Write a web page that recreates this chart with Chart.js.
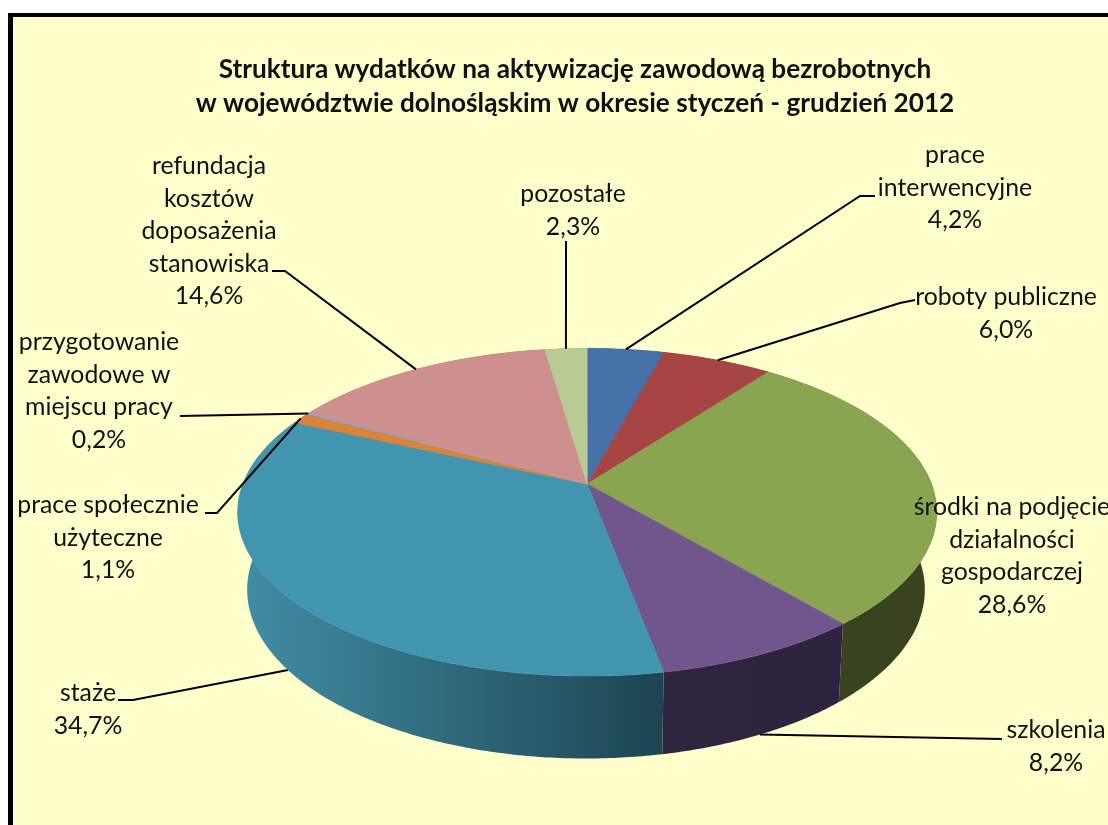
<!DOCTYPE html>
<html lang="pl">
<head>
<meta charset="utf-8">
<title>Struktura wydatków</title>
<script src="https://cdn.jsdelivr.net/npm/chart.js@4"></script>
<style>
    body { margin: 0; background: #fff; }
    #wrap { position: relative; width: 1108px; height: 825px; overflow: hidden; }
</style>
</head>
<body>
<div id="wrap"><canvas id="wydatkiChart" width="1108" height="825"></canvas></div>
<script>
var titleLines = [
    "Struktura wydatków na aktywizację zawodową bezrobotnych",
    "w województwie dolnośląskim w okresie styczeń - grudzień 2012"
];
var categories = [
    ["prace", "interwencyjne"],
    ["roboty publiczne"],
    ["środki na podjęcie", "działalności", "gospodarczej"],
    ["szkolenia"],
    ["staże"],
    ["prace społecznie", "użyteczne"],
    ["przygotowanie", "zawodowe w", "miejscu pracy"],
    ["refundacja", "kosztów", "doposażenia", "stanowiska"],
    ["pozostałe"]
];
var values = [4.2, 6.0, 28.6, 8.2, 34.7, 1.1, 0.2, 14.6, 2.3];

var topColors = ["#4571A6", "#A64544", "#8AA550", "#70568C", "#4195AE", "#D9833B", "#8FA8CF", "#CE8F8F", "#B7CB93"];
var sideLeft = ["#2A4463", "#632928", "#3A4520", "#30253F", "#418EA6", "#82501F", "#56657C", "#7C5656", "#6E7A58"];
var sideRight = ["#2A4463", "#632928", "#38421F", "#2E2340", "#1D4451", "#82501F", "#56657C", "#7C5656", "#6E7A58"];

// label placement: centre x, first line y, then the elbow of the leader line
var labelX = [955, 1006, 1012, 1056, 88, 108, 99, 209, 573];
var labelY = [155, 297, 507, 730, 693, 505, 342, 166, 194];
var lineGap = 32.6;
var leaders = [
    [[875, 196], [860, 196]],
    [[915, 300], [900, 303]],
    null,
    [[1002, 739]],
    [[118, 700], [133, 700]],
    [[205, 513], [217, 513]],
    [[180, 416]],
    [[272, 271], [285, 271]],
    [[566, 241]]
];

// perspective of the disc: top face and bottom rim
var topRim = { cx: 587.2, cy: 484, a: 344.3, b: 159, k: 0.172 };
var lowRim = { cx: 586, cy: 556, a: 332, b: 162, k: 0.2 };

function project(rim, angle) {
    var ux = Math.cos(angle), uy = Math.sin(angle);
    var d = 1 - rim.k * uy;
    return { x: rim.cx + rim.a * ux / d, y: rim.cy + rim.b * uy / d };
}

function rimPoints(rim, from, to) {
    var pts = [];
    var n = Math.max(2, Math.ceil((to - from) / 0.01));
    for (var i = 0; i <= n; i++) {
        pts.push(project(rim, from + (to - from) * i / n));
    }
    return pts;
}

function tracePath(ctx, pts) {
    ctx.beginPath();
    pts.forEach(function (p, i) {
        if (i === 0) ctx.moveTo(p.x, p.y);
        else ctx.lineTo(p.x, p.y);
    });
    ctx.closePath();
}

function drawLeader(ctx, arc, i) {
    var mid = (arc.startAngle + arc.endAngle) / 2;
    var end = project(Math.sin(mid) > 0.2 ? lowRim : topRim, mid);
    ctx.beginPath();
    leaders[i].forEach(function (p, j) {
        if (j === 0) ctx.moveTo(p[0], p[1]);
        else ctx.lineTo(p[0], p[1]);
    });
    ctx.lineTo(end.x, end.y);
    ctx.stroke();
}

var backgroundPlugin = {
    id: "paper",
    beforeDraw: function (chart) {
        var ctx = chart.ctx;
        ctx.save();
        ctx.fillStyle = "#000";
        ctx.fillRect(8, 13, 1100, 812);
        ctx.fillStyle = "#FFFFCC";
        ctx.fillRect(13, 17, 1095, 808);
        ctx.restore();
    }
};

var pie3dPlugin = {
    id: "pie3d",
    beforeDatasetsDraw: function (chart) {
        var ctx = chart.ctx;
        var arcs = chart.getDatasetMeta(0).data;
        ctx.save();
        ctx.strokeStyle = "#000";
        ctx.lineWidth = 2;

        // leaders of the front slices end at the bottom rim, behind the disc
        arcs.forEach(function (arc, i) {
            var mid = (arc.startAngle + arc.endAngle) / 2;
            if (leaders[i] && Math.sin(mid) > 0.2) drawLeader(ctx, arc, i);
        });

        // side wall
        arcs.forEach(function (arc, i) {
            var upper = rimPoints(topRim, arc.startAngle, arc.endAngle);
            var lower = rimPoints(lowRim, arc.startAngle, arc.endAngle);
            var all = upper.concat(lower.slice().reverse());
            var xs = all.map(function (p) { return p.x; });
            var grad = ctx.createLinearGradient(Math.min.apply(null, xs), 0, Math.max.apply(null, xs), 0);
            grad.addColorStop(0, sideLeft[i]);
            grad.addColorStop(1, sideRight[i]);
            tracePath(ctx, all);
            ctx.fillStyle = grad;
            ctx.fill();
        });

        // top face, thin stroke closes the seams between slices
        ctx.lineWidth = 0.6;
        arcs.forEach(function (arc, i) {
            var pts = [{ x: topRim.cx, y: topRim.cy }].concat(rimPoints(topRim, arc.startAngle, arc.endAngle));
            tracePath(ctx, pts);
            ctx.fillStyle = topColors[i];
            ctx.strokeStyle = topColors[i];
            ctx.fill();
            ctx.stroke();
        });

        // the other leaders run over the disc edge
        ctx.strokeStyle = "#000";
        ctx.lineWidth = 2;
        arcs.forEach(function (arc, i) {
            var mid = (arc.startAngle + arc.endAngle) / 2;
            if (leaders[i] && Math.sin(mid) <= 0.2) drawLeader(ctx, arc, i);
        });

        // labels
        ctx.fillStyle = "#111";
        ctx.font = "24.8px Lato";
        ctx.textAlign = "center";
        ctx.textBaseline = "middle";
        categories.forEach(function (lines, i) {
            var text = lines.concat([values[i].toFixed(1).replace(".", ",") + "%"]);
            text.forEach(function (line, j) {
                ctx.fillText(line, labelX[i], labelY[i] + j * lineGap);
            });
        });

        ctx.restore();
        return false;
    }
};

var ctx = document.getElementById("wydatkiChart").getContext("2d");

var wydatkiChart = new Chart(ctx, {
    type: "pie",
    data: {
        labels: categories,
        datasets: [{
            data: values,
            backgroundColor: topColors,
            borderWidth: 0
        }]
    },
    options: {
        responsive: false,
        animation: false,
        events: [],
        layout: { padding: { left: 42 } },
        plugins: {
            legend: { display: false },
            tooltip: { enabled: false },
            title: {
                display: true,
                text: titleLines,
                color: "#111",
                font: { family: "Lato", size: 26.2, weight: "bold", lineHeight: 1.3 },
                padding: { top: 52.5, bottom: 10 }
            }
        }
    },
    plugins: [backgroundPlugin, pie3dPlugin]
});
</script>
</body>
</html>
